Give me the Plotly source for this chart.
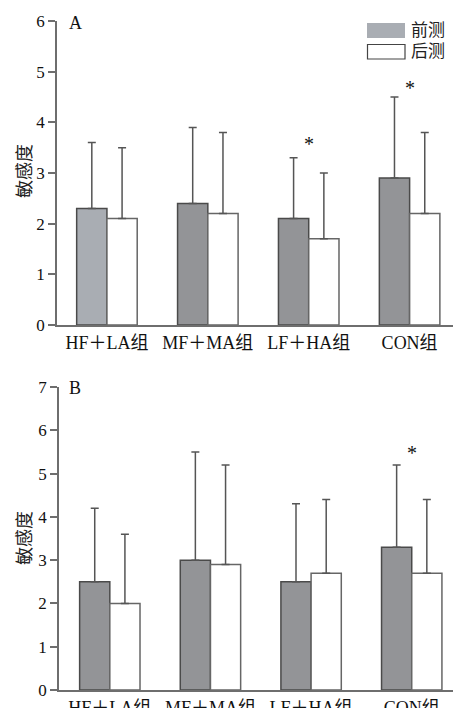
import plotly.graph_objects as go

groups = ["HF＋LA组", "MF＋MA组", "LF＋HA组", "CON组"]
series_names = ["前测", "后测"]

# Panel A
a_pre = [2.3, 2.4, 2.1, 2.9]
a_pre_err = [1.3, 1.5, 1.2, 1.6]
a_post = [2.1, 2.2, 1.7, 2.2]
a_post_err = [1.4, 1.6, 1.3, 1.6]
a_star_groups = [2, 3]
a_star_y = [3.57, 4.67]

# Panel B
b_pre = [2.5, 3.0, 2.5, 3.3]
b_pre_err = [1.7, 2.5, 1.8, 1.9]
b_post = [2.0, 2.9, 2.7, 2.7]
b_post_err = [1.6, 2.3, 1.7, 1.7]
b_star_groups = [3]
b_star_y = [5.47]

xpos = list(range(len(groups)))

W, H = 453, 708
SERIF = "Liberation Serif, Times New Roman, serif"
CJK = "Liberation Serif, Noto Sans CJK SC, serif"
DARK = "#939497"
LIGHT = "#a9adb3"
AXIS = "#6e6e6e"
ERR = "#555555"

fig = go.Figure()

def add_panel(pre, pre_err, post, post_err, xa, ya, first_light):
    pre_colors = [LIGHT if (first_light and i == 0) else DARK for i in range(len(pre))]
    fig.add_trace(go.Bar(
        x=xpos, y=pre, name=series_names[0], xaxis=xa, yaxis=ya,
        marker=dict(color=pre_colors, line=dict(color="#4a4a4a", width=1.5)),
        error_y=dict(type="data", symmetric=False, array=pre_err,
                     arrayminus=[0] * len(pre), color=ERR, thickness=1.5, width=4),
        showlegend=False, offsetgroup="pre"))
    fig.add_trace(go.Bar(
        x=xpos, y=post, name=series_names[1], xaxis=xa, yaxis=ya,
        marker=dict(color="white", line=dict(color="#666666", width=1.5)),
        error_y=dict(type="data", symmetric=False, array=post_err,
                     arrayminus=[0] * len(post), color=ERR, thickness=1.5, width=4),
        showlegend=False, offsetgroup="post"))

add_panel(a_pre, a_pre_err, a_post, a_post_err, "x", "y", True)
add_panel(b_pre, b_pre_err, b_post, b_post_err, "x2", "y2", False)

def px_x(p):
    return p / W

def px_y(p):
    return 1 - p / H

xcommon = dict(tickmode="array", tickvals=xpos, ticktext=groups, showline=True,
               linecolor=AXIS, linewidth=1.8, ticks="", showgrid=False, zeroline=False,
               tickfont=dict(family=CJK, size=18, color="#111"), fixedrange=True,
               automargin=False)
ycommon = dict(showline=True, linecolor=AXIS, linewidth=1.8, ticks="outside",
               ticklen=7, tickcolor=AXIS, tickwidth=1.5, showgrid=False, zeroline=False,
               tickfont=dict(family=SERIF, size=17, color="#111"), dtick=1, fixedrange=True,
               automargin=False)

fig.update_layout(
    width=W, height=H,
    margin=dict(l=0, r=0, t=0, b=0, autoexpand=False),
    paper_bgcolor="white", plot_bgcolor="white",
    barmode="group", bargap=0.4, bargroupgap=0,
    xaxis=dict(domain=[px_x(57), 1], range=[-0.495, 3.43], anchor="y", **xcommon),
    yaxis=dict(domain=[px_y(325), px_y(21)], range=[0, 6], anchor="x", **ycommon),
    xaxis2=dict(domain=[px_x(59), 1], range=[-0.505, 3.41], anchor="y2", **xcommon),
    yaxis2=dict(domain=[px_y(690), px_y(387)], range=[0, 7], anchor="x2", **ycommon),
)

ann = []
# Panel labels
ann.append(dict(text="A", x=px_x(67), y=px_y(23), xref="paper", yref="paper",
                xanchor="left", yanchor="middle", showarrow=False,
                font=dict(family=SERIF, size=18, color="#111")))
ann.append(dict(text="B", x=px_x(67), y=px_y(388), xref="paper", yref="paper",
                xanchor="left", yanchor="middle", showarrow=False,
                font=dict(family=SERIF, size=18, color="#111")))
# Y titles
for yc in [171, 538]:
    ann.append(dict(text="敏感度", x=px_x(25), y=px_y(yc), xref="paper", yref="paper",
                    xanchor="center", yanchor="middle", textangle=-90, showarrow=False,
                    font=dict(family=CJK, size=18, color="#222")))
# Asterisks
for g, yv in zip(a_star_groups, a_star_y):
    ann.append(dict(text="*", x=xpos[g], y=yv, xref="x", yref="y", showarrow=False,
                    font=dict(family=SERIF, size=20, color="#111")))
for g, yv in zip(b_star_groups, b_star_y):
    ann.append(dict(text="*", x=xpos[g], y=yv, xref="x2", yref="y2", showarrow=False,
                    font=dict(family=SERIF, size=20, color="#111")))
# Legend text
for name, yc in zip(series_names, [31, 52]):
    ann.append(dict(text=name, x=px_x(409), y=px_y(yc), xref="paper", yref="paper",
                    xanchor="left", yanchor="middle", showarrow=False,
                    font=dict(family=CJK, size=17, color="#222")))
fig.update_layout(annotations=ann)

# Legend swatches
shapes = [
    dict(type="rect", xref="paper", yref="paper", x0=px_x(367), x1=px_x(405),
         y0=px_y(38), y1=px_y(23), fillcolor=LIGHT, line=dict(width=0)),
    dict(type="rect", xref="paper", yref="paper", x0=px_x(367.5), x1=px_x(405),
         y0=px_y(59), y1=px_y(44.5), fillcolor="white", line=dict(color="#444", width=1.2)),
]
fig.update_layout(shapes=shapes)

fig.write_html("out.html")
